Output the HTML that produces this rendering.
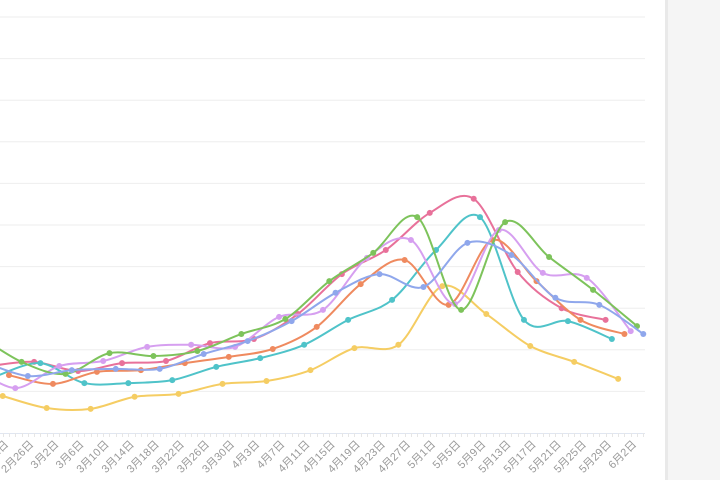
<!DOCTYPE html>
<html><head><meta charset="utf-8"><style>
html,body{margin:0;padding:0;width:720px;height:480px;overflow:hidden;background:#fff;font-family:"Liberation Sans","Noto Sans CJK SC",sans-serif}
#side{position:absolute;left:665px;top:0;width:55px;height:480px;background:#f5f5f5;border-left:3px solid #e9e9e9;box-sizing:border-box}
svg{position:absolute;left:0;top:0}
</style></head><body>
<div id="side"></div>
<svg id="chart" width="720" height="480"></svg>
<script>
const tickLabels=["2月22日","2月26日","3月2日","3月6日","3月10日","3月14日","3月18日","3月22日","3月26日","3月30日","4月3日","4月7日","4月11日","4月15日","4月19日","4月23日","4月27日","5月1日","5月5日","5月9日","5月13日","5月17日","5月21日","5月25日","5月29日","6月2日"];
const seriesNames=["pink","teal","yellow","orange","purple","green","blue"];
const seriesColors=["#e8719a","#4fc3c9","#f5cd63","#ef8a5f","#d69ff0","#7dc35b","#8fa7ec"];
const seriesStartDay=[-3,-2,-1,0,-6,-5,-4];
const pinkValues=[16.1,17.1,14.9,16.8,17.3,21.6,22.6,28.6,38.2,44.0,52.9,56.3,38.7,30.0,27.2];
const tealValues=[13.7,16.8,12.0,12.0,12.7,15.9,18.0,21.2,27.2,32.0,44.0,51.9,27.2,26.9,22.6];
const yellowValues=[8.9,6.0,5.8,8.7,9.4,11.8,12.5,15.1,20.4,21.2,35.3,28.6,20.9,17.1,13.0];
const orangeValues=[13.9,11.8,14.7,15.1,16.8,18.3,20.2,25.5,35.8,41.6,30.8,46.4,36.5,27.2,23.8];
const purpleValues=[16.3,10.8,16.1,17.3,20.7,21.2,20.7,27.9,29.6,42.1,46.4,31.0,48.8,38.5,37.3,24.5];
const greenValues=[23.6,17.1,14.2,19.2,18.5,19.7,23.8,27.4,36.5,43.3,51.9,29.6,50.7,42.3,34.4,25.7];
const blueValues=[17.1,13.7,15.1,15.4,15.4,19.0,22.1,26.9,33.7,38.2,35.1,45.7,42.8,32.5,30.8,23.8];
const allValues=[pinkValues,tealValues,yellowValues,orangeValues,purpleValues,greenValues,blueValues];

const NS="http://www.w3.org/2000/svg";
const svg=document.getElementById('chart');
const xScale=d=>9+d*6.28;
const yScale=v=>433-v*4.16;
function mk(tag,attrs,parent){const e=document.createElementNS(NS,tag);for(const k in attrs)e.setAttribute(k,attrs[k]);(parent||svg).appendChild(e);return e;}

const grid=mk('g',{});


for(let k=1;k<=10;k++){const y=yScale(k*10);const l=mk('line',{x1:0,x2:645,y1:y,y2:y,stroke:'#eeeeee','stroke-width':1},grid);

}
const ax=mk('g',{});


mk('line',{x1:0,x2:645,y1:433.5,y2:433.5,stroke:'#e0e6f1','stroke-width':1},ax);
for(let d=-2;d<=101;d++){const x=Math.round(xScale(d))+0.5;mk('line',{x1:x,x2:x,y1:433,y2:437,stroke:'#e6e6e6','stroke-width':1},ax);}
tickLabels.forEach((t,i)=>{const x=xScale(i*4);const tx=mk('text',{x:x,y:445,'text-anchor':'end',transform:`rotate(-45 ${x} 445)`,'font-size':11,fill:'#9a9a9a'},ax);tx.textContent=t;

});

function pathD(pts){let d=`M${pts[0][0]},${pts[0][1]}`;const t=0.16;
for(let i=0;i<pts.length-1;i++){const p0=pts[i-1]||pts[i],p1=pts[i],p2=pts[i+1],p3=pts[i+2]||p2;
const c1=[p1[0]+(p2[0]-p0[0])*t,p1[1]+(p2[1]-p0[1])*t];const c2=[p2[0]-(p3[0]-p1[0])*t,p2[1]-(p3[1]-p1[1])*t];
d+=` C${c1[0]},${c1[1]} ${c2[0]},${c2[1]} ${p2[0]},${p2[1]}`;}return d;}

allValues.forEach((vals,si)=>{const g=mk('g',{});


const pts=vals.map((v,i)=>[xScale(seriesStartDay[si]+i*7),yScale(v)]);
const p=mk('path',{d:pathD(pts),fill:'none',stroke:seriesColors[si],'stroke-width':2},g);


pts.forEach(pt=>{const c=mk('circle',{cx:pt[0],cy:pt[1],r:3,fill:seriesColors[si]},g);

});});
</script>
</body></html>
